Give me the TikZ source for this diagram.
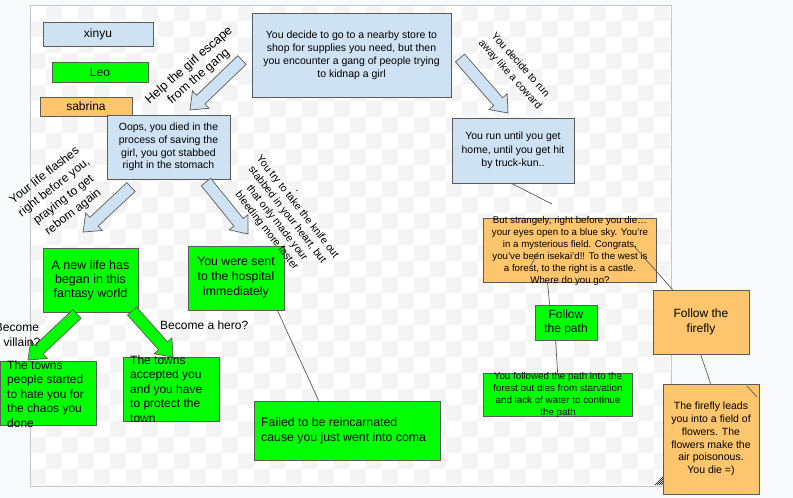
\documentclass[tikz,border=0pt]{standalone}
\usepackage{fontspec}
\setmainfont{Liberation Sans}
\usetikzlibrary{calc}

\definecolor{pagebg}{HTML}{F8F9FB}
\definecolor{checker}{HTML}{F4F4F4}
\definecolor{frame}{HTML}{C6C6C6}
\definecolor{boxblue}{HTML}{CFE2F3}
\definecolor{boxgreen}{HTML}{00FF00}
\definecolor{boxorange}{HTML}{FCC56E}
\definecolor{edge}{HTML}{5A5A5A}

% block arrow from a tail coordinate to a tip coordinate
\newcommand\blockarrow[3]{%
  \coordinate (#2-base) at ($(#3)!15pt!(#2)$);
  \draw[#1] ($(#2)!6pt!90:(#3)$) -- ($(#2-base)!6pt!90:(#3)$)
    -- ($(#2-base)!12pt!90:(#3)$) -- (#3)
    -- ($(#2-base)!12pt!-90:(#3)$) -- ($(#2-base)!6pt!-90:(#3)$)
    -- ($(#2)!6pt!-90:(#3)$) -- cycle;}

\tikzset{
  card/.style={draw=edge, line width=0.8pt, inner sep=0pt, align=center},
  bluecard/.style={card, fill=boxblue},
  greencard/.style={card, fill=boxgreen},
  orangecard/.style={card, fill=boxorange},
  txt/.style={inner sep=0pt, align=center},
  ltxt/.style={inner sep=0pt, align=left, anchor=west},
  fs/.style={font=\fontsize{#1}{#1*1.25}\selectfont},
  link/.style={draw=edge, line width=0.7pt},
  bluearrow/.style={draw=edge, line width=0.7pt, fill=boxblue, line join=miter},
  greenarrow/.style={draw=edge, line width=0.7pt, fill=boxgreen, line join=miter},
}

\begin{document}
\begin{tikzpicture}[x=1pt, y=-1pt]
\useasboundingbox (0,0) rectangle (793,498);
\fill[pagebg] (0,0) rectangle (793,498);

% canvas with checkerboard
\fill[white] (30,5) rectangle (671,486);
\begin{scope}
  \clip (30,5) rectangle (671,486);
  \foreach \i in {0,...,40}{
    \foreach \j in {0,...,30}{
      \pgfmathtruncatemacro\odd{mod(\i+\j,2)}
      \ifnum\odd=1
        \fill[checker] ({30+16*\i},{5+16*\j}) rectangle ({46+16*\i},{21+16*\j});
      \fi}}
\end{scope}
\draw[frame, line width=0.8pt] (30,5) rectangle (671,486);
% resize grip
\foreach \d in {2,4,...,14}
  \draw[black, line width=0.5pt] ({669-\d},485) -- (669,{485-\d});

% legend
\node[bluecard, minimum width=110, minimum height=24, font=\fontsize{12}{14}\selectfont] (xinyu) at (98,34) {xinyu};
\node[greencard, minimum width=96, minimum height=20, font=\fontsize{12}{14}\selectfont] (leo) at (100,72) {Leo};
\node[orangecard, minimum width=92, minimum height=19, font=\fontsize{12}{14}\selectfont] (sabrina) at (86,106.5) {sabrina};

% story boxes
\node[bluecard, minimum width=199, minimum height=84, font=\fontsize{10.5}{13}\selectfont] (store) at (351.5,55)
  {You decide to go to a nearby store to\\shop for supplies you need, but then\\you encounter a gang of people trying\\to kidnap a girl};
\node[bluecard, minimum width=123, minimum height=64, font=\fontsize{10.5}{12.7}\selectfont] (oops) at (168.5,147)
  {Oops, you died in the\\process of saving the\\girl, you got stabbed\\right in the stomach};
\node[bluecard, minimum width=122, minimum height=65, font=\fontsize{10.5}{13.3}\selectfont] (run) at (513,150.5)
  {You run until you get\\home, until you get hit\\by truck-kun..};
\node[greencard, minimum width=95, minimum height=64, font=\fontsize{12.5}{14}\selectfont] (newlife) at (90.5,280)
  {A new life has\\began in this\\fantasy world};
\node[greencard, minimum width=96, minimum height=64, font=\fontsize{12.3}{15}\selectfont] (hosp) at (236,278)
  {You were sent\\to the hospital\\immediately};

\node[greencard, minimum width=96, minimum height=64] (villain) at (48,393) {};
\node[ltxt, font=\fontsize{12}{14.5}\selectfont] (villaintext) at (7,394)
  {The towns\\people started\\to hate you for\\the chaos you\\done};
\node[greencard, minimum width=96, minimum height=64] (hero) at (171,389) {};
\node[ltxt, font=\fontsize{12}{14.5}\selectfont] (herotext) at (130,389)
  {The towns\\accepted you\\and you have\\to protect the\\town};
\node[greencard, minimum width=186, minimum height=59] (failed) at (347,430.5) {};
\node[ltxt, font=\fontsize{12.3}{15}\selectfont] (failedtext) at (261,430.5)
  {Failed to be reincarnated\\cause you just went into coma};

\node[orangecard, minimum width=173, minimum height=64] (field) at (569.5,250) {};
\node[txt, font=\fontsize{9.7}{12}\selectfont] (fieldtext) at (570,251)
  {But strangely, right before you die\dots\\your eyes open to a blue sky. You're\\in a mysterious field. Congrats,\\you've been isekai'd!! To the west is\\a forest, to the right is a castle.\\Where do you go?};
\node[greencard, minimum width=62, minimum height=35, font=\fontsize{12}{14}\selectfont] (path) at (566,322.5)
  {Follow\\the path};
\node[greencard, minimum width=149, minimum height=43] (forest) at (557.5,394.5) {};
\node[txt, font=\fontsize{9.8}{12}\selectfont] (foresttext) at (558,395)
  {You followed the path into the\\forest but dies from starvation\\and lack of water to continue\\the path};
\node[orangecard, minimum width=96, minimum height=64, font=\fontsize{12}{15}\selectfont] (firefly) at (701,322)
  {Follow the\\firefly};
\node[orangecard, minimum width=96, minimum height=110, font=\fontsize{10.5}{12.7}\selectfont] (leads) at (711,439)
  {The firefly leads\\you into a field of\\flowers. The\\flowers make the\\air poisonous.\\You die =)};

% plain connectors
\draw[link] ($(hosp.south east)+(-7,0)$) -- ($(failed.north west)+(65,0)$);
\coordinate (runend) at (552,204);
\draw[link] ($(run.south west)+(60,0)$) -- (runend);
\coordinate (strayA) at (538,252);
\coordinate (strayB) at (530,267);
\draw[link] (strayA) -- (strayB);
\coordinate (fieldmark) at (633,245);
\draw[link] (fieldmark) -- ($(firefly.north west)+(20,0)$);
\draw[link] ($(field.south west)+(65,0)$) -- ($(path.north west)+(15,0)$);
\draw[link] ($(path.south west)+(21,0)$) -- ($(forest.north west)+(75,0)$);
\draw[link] ($(firefly.south west)+(48,0)$) -- ($(leads.north west)+(48,0)$);
\coordinate (foldA) at (747,386);
\coordinate (foldB) at (757,397);
\draw[link] (foldA) -- (foldB);

% block arrows
\coordinate (helpT) at (242,60);   \coordinate (helpH) at (190,110);
\coordinate (fleeT) at (460,58);   \coordinate (fleeH) at (508,113);
\coordinate (flashT) at (131,187); \coordinate (flashH) at (83,232);
\coordinate (knifeT) at (206,182); \coordinate (knifeH) at (248,234);
\coordinate (badT) at (77,314);    \coordinate (badH) at (28,360);
\coordinate (goodT) at (132,311);  \coordinate (goodH) at (173,357);
\blockarrow{bluearrow}{helpT}{helpH}
\blockarrow{bluearrow}{fleeT}{fleeH}
\blockarrow{bluearrow}{flashT}{flashH}
\blockarrow{bluearrow}{knifeT}{knifeH}
\blockarrow{greenarrow}{badT}{badH}
\blockarrow{greenarrow}{goodT}{goodH}

% choice labels
\node[txt, rotate=41, font=\fontsize{12.5}{15}\selectfont] (helplabel) at (194,71)
  {Help the girl escape\\from the gang};
\node[txt, rotate=-48, font=\fontsize{10.5}{14}\selectfont] (fleelabel) at (515,70)
  {You decide to run\\away like a coward};
\node[txt, rotate=38, font=\fontsize{12}{15.5}\selectfont] (flashlabel) at (59,194)
  {Your life flashes\\right before you,\\praying to get\\reborn again};
\node[txt, rotate=-52, font=\fontsize{10.5}{13}\selectfont] (knifelabel) at (282,219)
  {You try to take the knife out\\stabbed in your heart, but\\that only made your\\bleeding more faster};
\node[txt, font=\fontsize{10.5}{13}\selectfont] (dot) at (297,191) {.};
\node[txt, font=\fontsize{12}{15}\selectfont] (villainlabel) at (17,335)
  {Become\\a villain?};
\node[ltxt, font=\fontsize{12}{15}\selectfont] (herolabel) at (160,325) {Become a hero?};
\end{tikzpicture}
\end{document}
